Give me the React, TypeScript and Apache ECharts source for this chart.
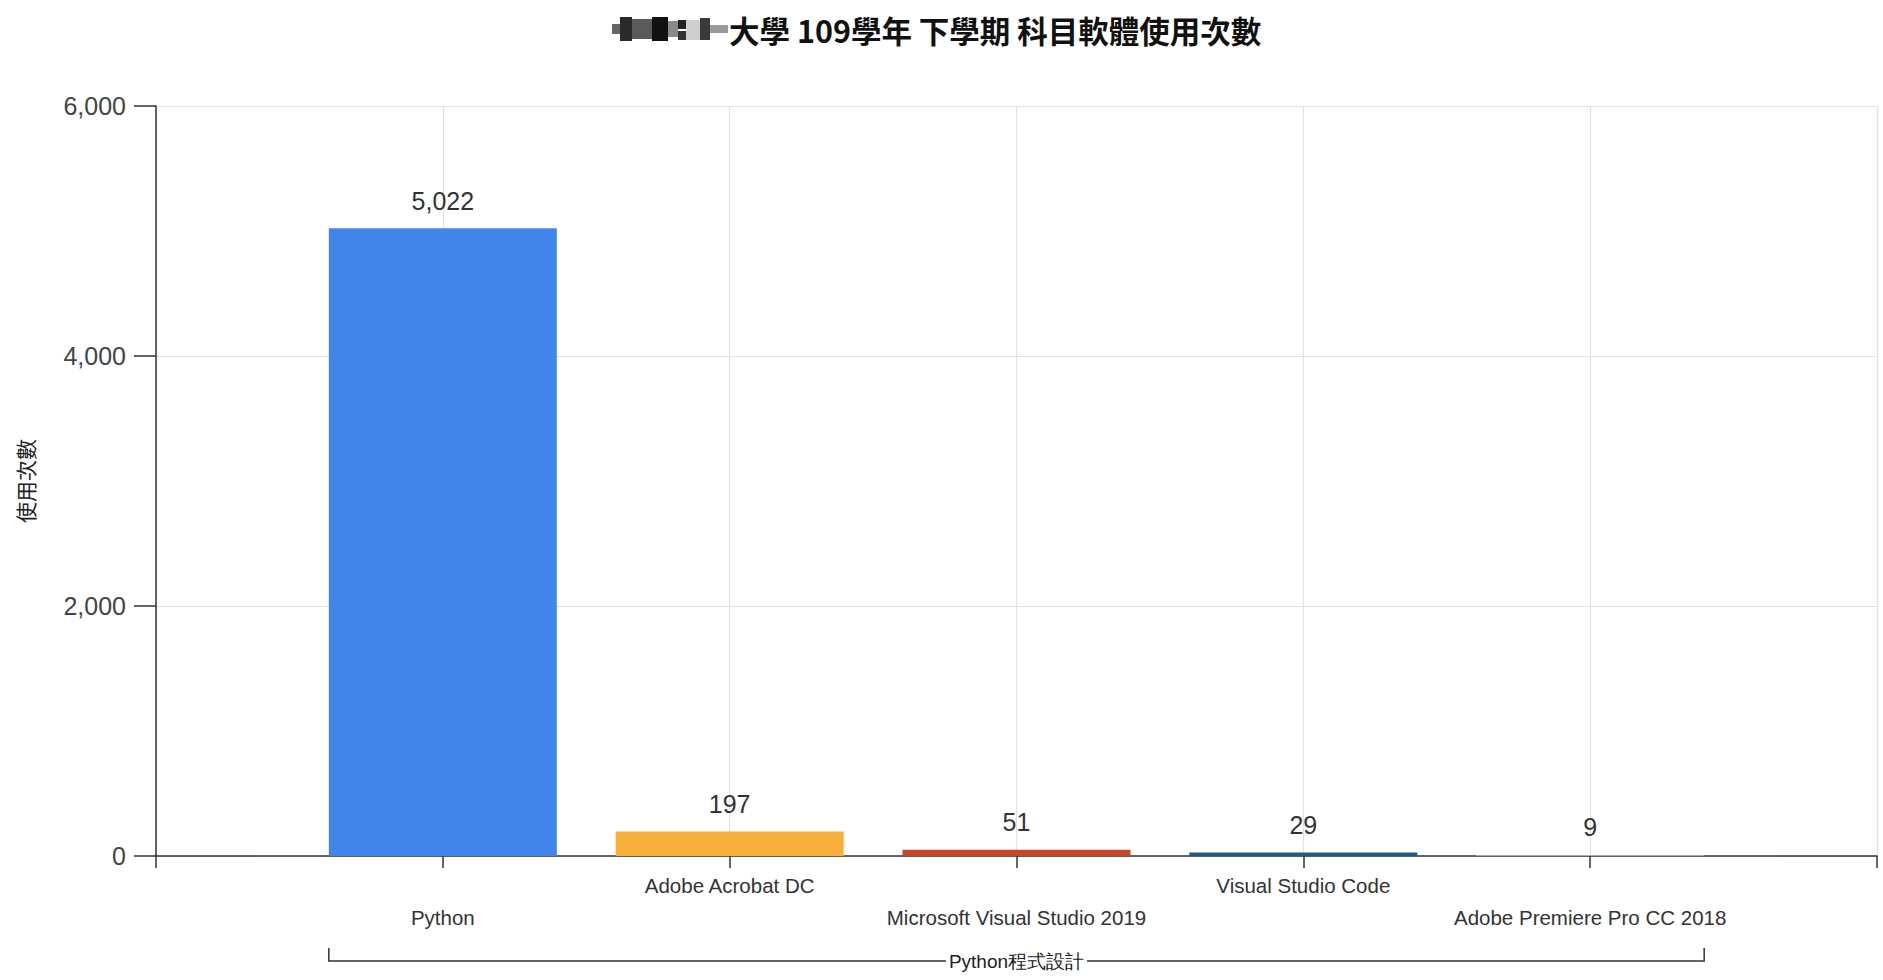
import React, { useEffect, useRef } from "react";
import * as echarts from "echarts";

const categories = ["", "Python", "Adobe Acrobat DC", "Microsoft Visual Studio 2019", "Visual Studio Code", "Adobe Premiere Pro CC 2018", ""];
const values = [null, 5022, 197, 51, 29, 9, null];
const barColors = ["#ffffff", "#4286EC", "#F9AF3C", "#C8442A", "#1F5C86", "#A8A8A8", "#ffffff"];
const yTicks = { min: 0, max: 6000, interval: 2000 };
const titleText = "大學 109學年 下學期 科目軟體使用次數";
const yAxisName = "使用次數";
const groupLabel = "Python程式設計";
const groupFirst = 1;
const groupLast = 5;

const FONT = "'Liberation Sans', Arial, sans-serif";
const CJK = "'Noto Sans CJK TC', 'Noto Sans CJK SC', sans-serif";
const BAR_W = 228;

export default function App() {
  const ref = useRef<HTMLDivElement>(null);
  useEffect(() => {
    if (!ref.current) return;
    const chart = echarts.init(ref.current, null, { renderer: "svg" });
    const option: any = {
      animation: false,
      backgroundColor: "#ffffff",
      grid: { left: 156, right: 6, top: 106, bottom: 124, containLabel: false },
      xAxis: {
        type: "category",
        data: categories,
        boundaryGap: false,
        axisLine: { show: true, lineStyle: { color: "#333", width: 1.5 } },
        axisTick: { show: true, interval: 0, length: 12, lineStyle: { color: "#333", width: 1.5 } },
        splitLine: { show: true, interval: 0, lineStyle: { color: "#e2e2e2", width: 1.2 } },
        axisLabel: {
          interval: 0,
          margin: 13,
          fontFamily: FONT,
          fontSize: 20.5,
          color: "#333",
          lineHeight: 32,
          formatter: (v: string, i: number) => (v === "" ? "" : i % 2 === 1 ? "\n" + v : v),
        },
      },
      yAxis: {
        type: "value",
        min: yTicks.min,
        max: yTicks.max,
        interval: yTicks.interval,
        name: yAxisName,
        nameLocation: "middle",
        nameRotate: 90,
        nameGap: 121,
        nameTextStyle: { fontFamily: CJK, fontSize: 21, color: "#222" },
        axisLine: { show: true, lineStyle: { color: "#333", width: 1.5 } },
        axisTick: { show: true, length: 22, lineStyle: { color: "#333", width: 1.5 } },
        splitLine: { show: true, lineStyle: { color: "#e2e2e2", width: 1.2 } },
        axisLabel: {
          margin: 30,
          fontFamily: FONT,
          fontSize: 25,
          color: "#444",
          formatter: (v: number) => v.toLocaleString("en-US"),
        },
      },
      series: [
        {
          type: "bar",
          barWidth: BAR_W,
          data: values.map((v, i) => ({ value: v, itemStyle: { color: barColors[i] } })),
          label: {
            show: true,
            position: "top",
            distance: 15,
            fontFamily: FONT,
            fontSize: 25,
            color: "#333",
            formatter: (p: any) => (p.value == null ? "" : Number(p.value).toLocaleString("en-US")),
          },
        },
      ],
    };
    chart.setOption(option);

    const x1 = chart.convertToPixel({ xAxisIndex: 0 }, groupFirst) as number;
    const x2 = chart.convertToPixel({ xAxisIndex: 0 }, groupLast) as number;
    const y0 = chart.convertToPixel({ yAxisIndex: 0 }, 0) as number;
    const bx1 = x1 - BAR_W / 2;
    const bx2 = x2 + BAR_W / 2;
    const by = y0 + 105;

    const mosaic: [number, number, number, number, string][] = [
      [612, 24, 8, 10, "#666"],
      [620, 17, 12, 24, "#2a2a2a"],
      [632, 19, 20, 20, "#5a5a5a"],
      [652, 17, 16, 24, "#111"],
      [668, 21, 10, 16, "#8a8a8a"],
      [678, 20, 8, 9, "#222"],
      [678, 31, 8, 9, "#333"],
      [686, 20, 14, 20, "#cfcfcf"],
      [700, 18, 10, 22, "#3a3a3a"],
      [710, 25, 18, 8, "#9a9a9a"],
    ];

    chart.setOption({
      graphic: [
        ...mosaic.map(([x, y, w, h, c]) => ({
          type: "rect",
          shape: { x, y, width: w, height: h },
          style: { fill: c },
          silent: true,
        })),
        {
          type: "text",
          x: 729,
          y: 30,
          style: {
            text: titleText,
            fontFamily: CJK,
            fontSize: 30.5,
            fontWeight: "bold",
            fill: "#111",
            verticalAlign: "middle",
            align: "left",
          },
        },
        {
          type: "polyline",
          shape: { points: [[bx1, by - 13], [bx1, by], [bx2, by], [bx2, by - 13]] },
          style: { stroke: "#333", lineWidth: 1.5, fill: "none" },
        },
        {
          type: "text",
          x: (x1 + x2) / 2,
          y: by,
          style: {
            text: groupLabel,
            fontFamily: FONT,
            fontSize: 19,
            fill: "#222",
            align: "center",
            verticalAlign: "middle",
            backgroundColor: "#ffffff",
            padding: [2, 3],
          },
        },
      ],
    });

    return () => chart.dispose();
  }, []);
  return (
    <div
      ref={ref}
      style={{ position: "fixed", left: 0, top: 0, width: 1883, height: 980, background: "#fff" }}
    />
  );
}
